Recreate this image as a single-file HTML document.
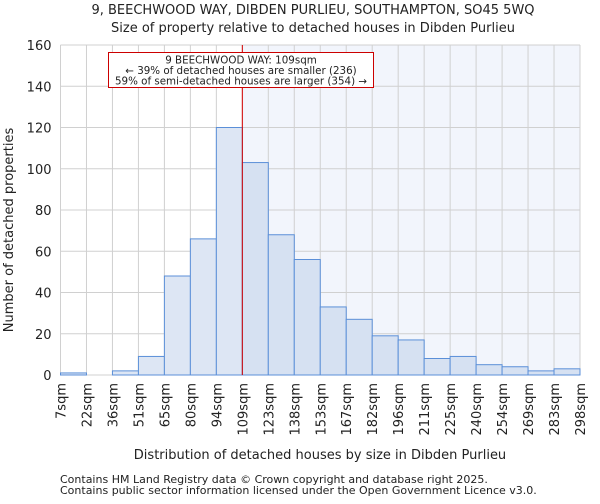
<!DOCTYPE html>
<html><head><meta charset="utf-8"><style>
body{margin:0;background:#fff;font-family:"DejaVu Sans","Liberation Sans",sans-serif;}
svg text{font-family:"DejaVu Sans","Liberation Sans",sans-serif;fill:#222;}
</style></head><body>
<svg id="chart" width="600" height="500" xmlns="http://www.w3.org/2000/svg">
<text x="313" y="14" font-size="13" text-anchor="middle">9, BEECHWOOD WAY, DIBDEN PURLIEU, SOUTHAMPTON, SO45 5WQ</text>
<text x="313" y="32" font-size="13" text-anchor="middle">Size of property relative to detached houses in Dibden Purlieu</text>
<g id="plot"></g>
<text x="320" y="459" font-size="13" text-anchor="middle">Distribution of detached houses by size in Dibden Purlieu</text>
<text transform="translate(13,230) rotate(-90)" font-size="13" text-anchor="middle">Number of detached properties</text>
<text x="60" y="483" font-size="11" fill="#444">Contains HM Land Registry data © Crown copyright and database right 2025.</text>
<text x="60" y="494" font-size="11" fill="#444">Contains public sector information licensed under the Open Government Licence v3.0.</text>
</svg>
<script>
const categories=["7sqm","22sqm","36sqm","51sqm","65sqm","80sqm","94sqm","109sqm","123sqm","138sqm","153sqm","167sqm","182sqm","196sqm","211sqm","225sqm","240sqm","254sqm","269sqm","283sqm","298sqm"];
const counts=[1,0,2,9,48,66,120,103,68,56,33,27,19,17,8,9,5,4,2,3];
const yTicks=[0,20,40,60,80,100,120,140,160];
const markerIndex=7;
const NS="http://www.w3.org/2000/svg";
const L=60.5,R=580,T=45,B=375,yMax=160;
const bw=(R-L)/counts.length;
const xs=i=>L+i*bw;
const ys=v=>B-(v/yMax)*(B-T);
const g=document.getElementById('plot');
function mk(t,a){const e=document.createElementNS(NS,t);for(const k in a)e.setAttribute(k,a[k]);g.appendChild(e);return e;}
let e=mk('rect',{x:xs(markerIndex),y:T,width:R-xs(markerIndex),height:B-T,fill:'#f2f5fc'});


categories.forEach((c,i)=>{const l=mk('line',{x1:xs(i),x2:xs(i),y1:T,y2:B,stroke:'#d0d0d0','stroke-width':1});

});
yTicks.forEach(v=>{const l=mk('line',{x1:L,x2:R,y1:ys(v),y2:ys(v),stroke:'#d0d0d0','stroke-width':1});


const t=mk('text',{x:L-9,y:ys(v)+5,'font-size':13,'text-anchor':'end'});t.textContent=v;

});
counts.forEach((v,i)=>{const r=mk('rect',{x:xs(i),y:ys(v),width:bw,height:B-ys(v),fill:i>=markerIndex?'#d6e1f2':'#dde6f4',stroke:'#5b8fd8','stroke-width':1});

});
categories.forEach((c,i)=>{const t=mk('text',{transform:`translate(${xs(i)+5},${B+8}) rotate(-90)`,'font-size':13,'text-anchor':'end'});t.textContent=c;

});
e=mk('line',{x1:xs(markerIndex),x2:xs(markerIndex),y1:T,y2:B,stroke:'#d40000','stroke-width':1});


e=mk('rect',{x:108.5,y:52.5,width:265,height:35,fill:'#fff',stroke:'#cc0000','stroke-width':1});


["9 BEECHWOOD WAY: 109sqm","← 39% of detached houses are smaller (236)","59% of semi-detached houses are larger (354) →"].forEach((s,k)=>{const t=mk('text',{x:241,y:63.5+k*10.5,'font-size':10.3,'text-anchor':'middle'});t.textContent=s;

});
</script>
</body></html>
